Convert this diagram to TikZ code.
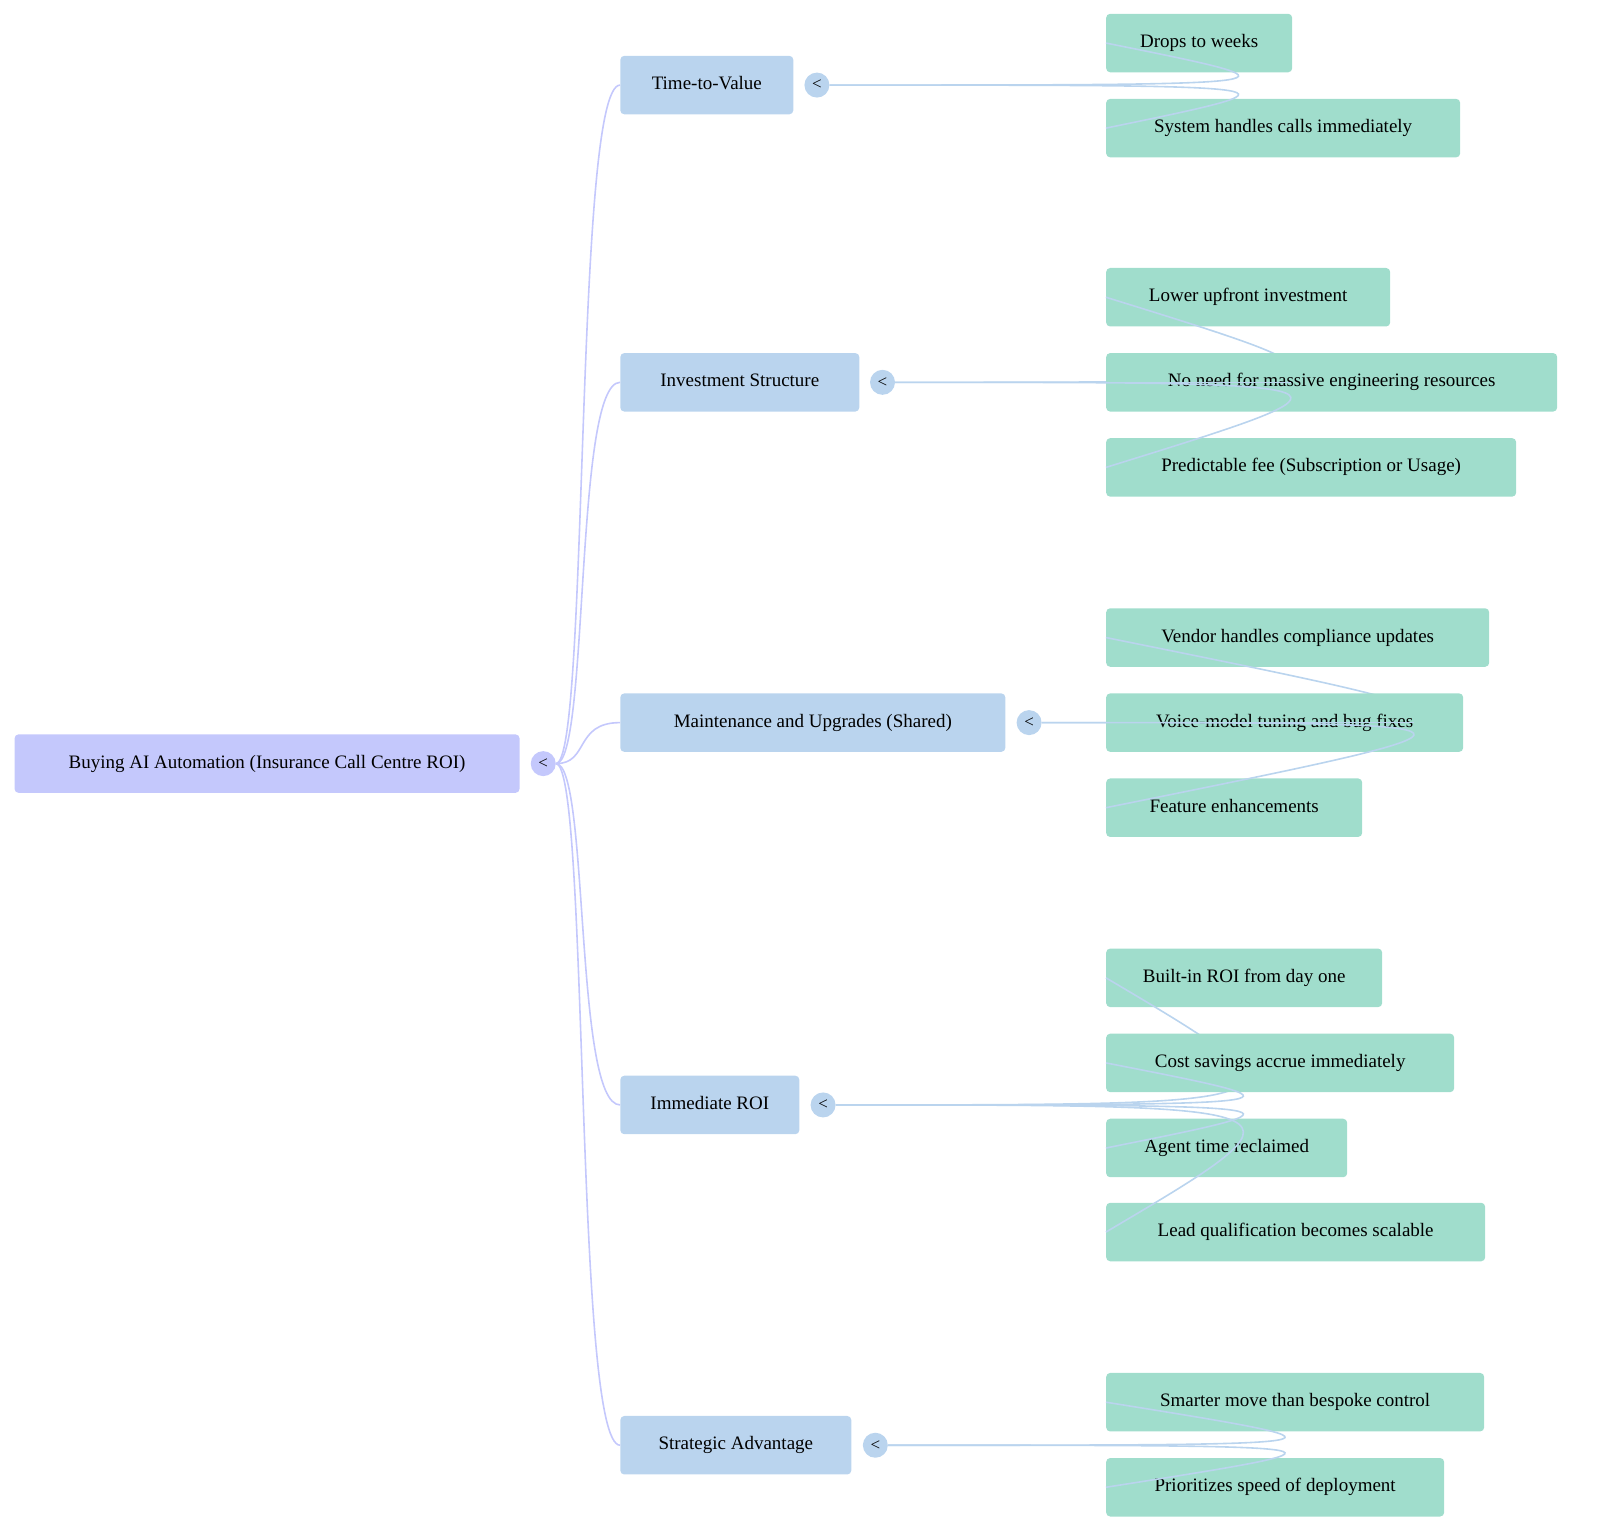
\documentclass[tikz,border=0pt]{standalone}
\usepackage{fontspec}
\setmainfont{Liberation Serif}
\begin{document}
\begin{tikzpicture}[x=1.025pt,y=-1.025pt,
 box/.style={rounded corners=4pt,minimum height=58.5pt,anchor=west,inner xsep=19pt,font=\fontsize{19}{22}\selectfont,text height=13pt,text depth=4pt},
 rootb/.style={box,fill=blue!22!white,fill={rgb,255:red,196;green,200;blue,252}},
 midb/.style={box,fill={rgb,255:red,186;green,212;blue,238}},
 leafb/.style={box,fill={rgb,255:red,160;green,221;blue,204}},
 dot/.style={circle,inner sep=0pt,minimum size=25pt,font=\fontsize{17}{17}\selectfont},
 redge/.style={draw={rgb,255:red,196;green,200;blue,252},line width=1.6pt},
 medge/.style={draw={rgb,255:red,186;green,212;blue,238},line width=1.6pt}]
\useasboundingbox (0,0) rectangle (1561,1486);
\node[rootb,minimum width=505pt] (r) at (14,745) {Buying AI Automation (Insurance Call Centre ROI)};
\node[dot,fill={rgb,255:red,196;green,200;blue,252}] (rc) at (530,745) {<};
\foreach \n/\t/\y/\w/\cx in {a/Time-to-Value/83/173/797, b/Investment Structure/373/239/861, c/Maintenance and Upgrades (Shared)/705/385/1004, d/Immediate ROI/1078/179/803, e/Strategic Advantage/1410/231/854}{
 \node[midb,minimum width=\w pt] (\n) at (605,\y) {\t};
 \node[dot,fill={rgb,255:red,186;green,212;blue,238}] (\n c) at (\cx,\y) {<};
 \draw[redge] (rc.east) .. controls (575,745) and (560,\y) .. (\n.west);
}
\foreach \p/\t/\y/\w in {a/Drops to weeks/42/186, a/System handles calls immediately/125/354,
 b/Lower upfront investment/290/284, b/No need for massive engineering resources/373/451, b/Predictable fee (Subscription or Usage)/456/410,
 c/Vendor handles compliance updates/622/383, c/Voice-model tuning and bug fixes/705/357, c/Feature enhancements/788/256,
 d/Built-in ROI from day one/954/276, d/Cost savings accrue immediately/1037/348, d/Agent time reclaimed/1120/241, d/Lead qualification becomes scalable/1202/379,
 e/Smarter move than bespoke control/1368/378, e/Prioritizes speed of deployment/1451/338}{
 \node[leafb,minimum width=\w pt] (l\y) at (1079,\y) {\t};
 \draw[medge] (\p c.east) .. controls +(0.45*1079-0.45*\pgfkeysvalueof{/pgf/minimum width},0) .. (l\y.west);
}
\end{tikzpicture}
\end{document}
